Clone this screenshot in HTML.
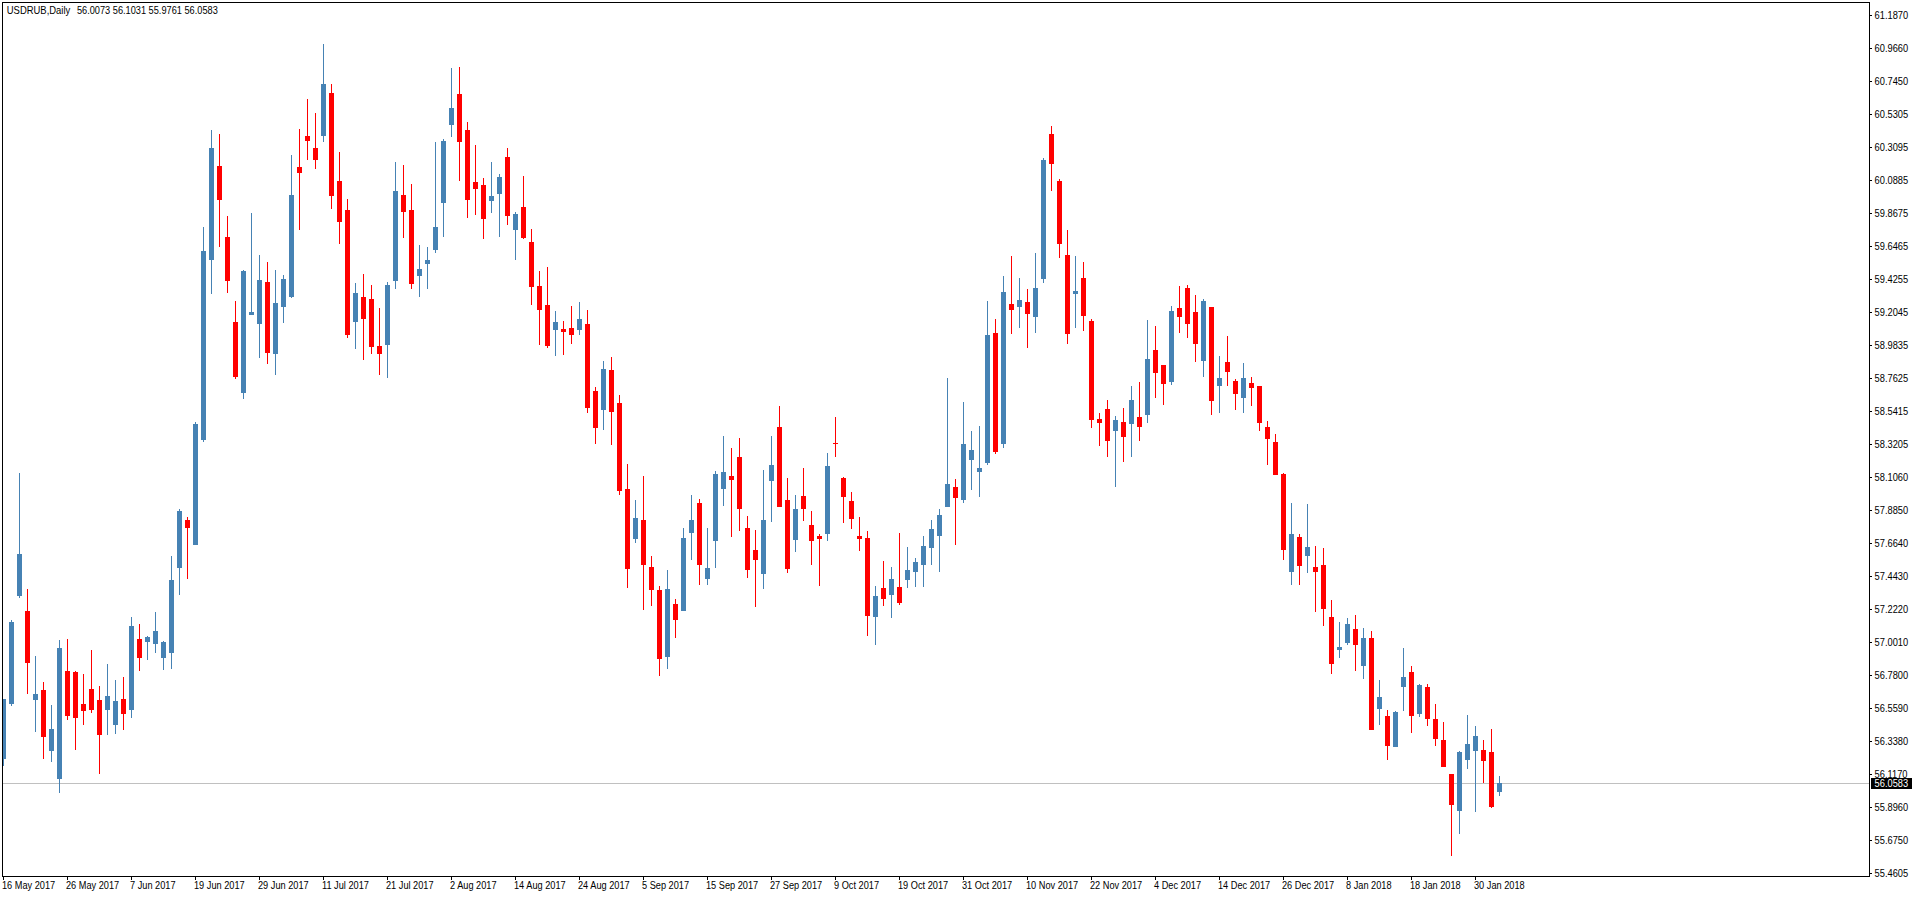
<!DOCTYPE html>
<html><head><meta charset="utf-8"><title>USDRUB,Daily</title>
<style>
html,body{margin:0;padding:0;background:#fff;width:1912px;height:897px;overflow:hidden}
svg{position:absolute;left:0;top:0;display:block}
text{font-family:"Liberation Sans",sans-serif;font-size:10px;fill:#000}
.w{fill:#fff}
</style></head><body>
<svg width="1912" height="897" viewBox="0 0 1912 897" shape-rendering="crispEdges">
<rect x="0" y="0" width="1912" height="897" fill="#fff"/>
<defs><clipPath id="area"><rect x="3" y="3" width="1866" height="873"/></clipPath></defs>
<g clip-path="url(#area)">
<rect x="3" y="783" width="1866" height="1" fill="#C0C0C0"/>
<rect x="3" y="699" width="1" height="67" fill="#4682B4"/>
<rect x="1" y="699" width="5" height="60" fill="#4682B4"/>
<rect x="11" y="620" width="1" height="86" fill="#4682B4"/>
<rect x="9" y="622" width="5" height="82" fill="#4682B4"/>
<rect x="19" y="473" width="1" height="125" fill="#4682B4"/>
<rect x="17" y="554" width="5" height="42" fill="#4682B4"/>
<rect x="27" y="589" width="1" height="105" fill="#FF0000"/>
<rect x="25" y="611" width="5" height="52" fill="#FF0000"/>
<rect x="35" y="656" width="1" height="76" fill="#4682B4"/>
<rect x="33" y="694" width="5" height="6" fill="#4682B4"/>
<rect x="43" y="682" width="1" height="77" fill="#FF0000"/>
<rect x="41" y="690" width="5" height="47" fill="#FF0000"/>
<rect x="51" y="705" width="1" height="57" fill="#4682B4"/>
<rect x="49" y="729" width="5" height="22" fill="#4682B4"/>
<rect x="59" y="640" width="1" height="153" fill="#4682B4"/>
<rect x="57" y="648" width="5" height="131" fill="#4682B4"/>
<rect x="67" y="639" width="1" height="81" fill="#FF0000"/>
<rect x="65" y="671" width="5" height="45" fill="#FF0000"/>
<rect x="75" y="671" width="1" height="79" fill="#FF0000"/>
<rect x="73" y="672" width="5" height="46" fill="#FF0000"/>
<rect x="83" y="674" width="1" height="51" fill="#FF0000"/>
<rect x="81" y="704" width="5" height="7" fill="#FF0000"/>
<rect x="91" y="650" width="1" height="63" fill="#FF0000"/>
<rect x="89" y="689" width="5" height="21" fill="#FF0000"/>
<rect x="99" y="686" width="1" height="88" fill="#FF0000"/>
<rect x="97" y="700" width="5" height="35" fill="#FF0000"/>
<rect x="107" y="664" width="1" height="71" fill="#4682B4"/>
<rect x="105" y="696" width="5" height="14" fill="#4682B4"/>
<rect x="115" y="680" width="1" height="54" fill="#4682B4"/>
<rect x="113" y="701" width="5" height="24" fill="#4682B4"/>
<rect x="123" y="677" width="1" height="53" fill="#FF0000"/>
<rect x="121" y="699" width="5" height="15" fill="#FF0000"/>
<rect x="131" y="617" width="1" height="101" fill="#4682B4"/>
<rect x="129" y="626" width="5" height="84" fill="#4682B4"/>
<rect x="139" y="624" width="1" height="47" fill="#FF0000"/>
<rect x="137" y="639" width="5" height="19" fill="#FF0000"/>
<rect x="147" y="636" width="1" height="24" fill="#4682B4"/>
<rect x="145" y="637" width="5" height="5" fill="#4682B4"/>
<rect x="155" y="612" width="1" height="41" fill="#4682B4"/>
<rect x="153" y="631" width="5" height="13" fill="#4682B4"/>
<rect x="163" y="641" width="1" height="29" fill="#4682B4"/>
<rect x="161" y="642" width="5" height="16" fill="#4682B4"/>
<rect x="171" y="556" width="1" height="113" fill="#4682B4"/>
<rect x="169" y="580" width="5" height="73" fill="#4682B4"/>
<rect x="179" y="509" width="1" height="86" fill="#4682B4"/>
<rect x="177" y="511" width="5" height="57" fill="#4682B4"/>
<rect x="187" y="517" width="1" height="62" fill="#FF0000"/>
<rect x="185" y="520" width="5" height="8" fill="#FF0000"/>
<rect x="195" y="422" width="1" height="123" fill="#4682B4"/>
<rect x="193" y="424" width="5" height="121" fill="#4682B4"/>
<rect x="203" y="227" width="1" height="215" fill="#4682B4"/>
<rect x="201" y="251" width="5" height="189" fill="#4682B4"/>
<rect x="211" y="130" width="1" height="164" fill="#4682B4"/>
<rect x="209" y="148" width="5" height="112" fill="#4682B4"/>
<rect x="219" y="134" width="1" height="113" fill="#FF0000"/>
<rect x="217" y="166" width="5" height="34" fill="#FF0000"/>
<rect x="227" y="216" width="1" height="77" fill="#FF0000"/>
<rect x="225" y="237" width="5" height="44" fill="#FF0000"/>
<rect x="235" y="301" width="1" height="78" fill="#FF0000"/>
<rect x="233" y="322" width="5" height="55" fill="#FF0000"/>
<rect x="243" y="270" width="1" height="129" fill="#4682B4"/>
<rect x="241" y="271" width="5" height="122" fill="#4682B4"/>
<rect x="251" y="213" width="1" height="102" fill="#4682B4"/>
<rect x="249" y="312" width="5" height="3" fill="#4682B4"/>
<rect x="259" y="255" width="1" height="103" fill="#4682B4"/>
<rect x="257" y="280" width="5" height="44" fill="#4682B4"/>
<rect x="267" y="262" width="1" height="102" fill="#FF0000"/>
<rect x="265" y="282" width="5" height="71" fill="#FF0000"/>
<rect x="275" y="270" width="1" height="105" fill="#4682B4"/>
<rect x="273" y="303" width="5" height="51" fill="#4682B4"/>
<rect x="283" y="275" width="1" height="48" fill="#4682B4"/>
<rect x="281" y="279" width="5" height="28" fill="#4682B4"/>
<rect x="291" y="155" width="1" height="143" fill="#4682B4"/>
<rect x="289" y="195" width="5" height="102" fill="#4682B4"/>
<rect x="299" y="129" width="1" height="101" fill="#FF0000"/>
<rect x="297" y="167" width="5" height="6" fill="#FF0000"/>
<rect x="307" y="99" width="1" height="61" fill="#FF0000"/>
<rect x="305" y="136" width="5" height="5" fill="#FF0000"/>
<rect x="315" y="113" width="1" height="56" fill="#FF0000"/>
<rect x="313" y="148" width="5" height="12" fill="#FF0000"/>
<rect x="323" y="44" width="1" height="98" fill="#4682B4"/>
<rect x="321" y="84" width="5" height="52" fill="#4682B4"/>
<rect x="331" y="84" width="1" height="125" fill="#FF0000"/>
<rect x="329" y="93" width="5" height="103" fill="#FF0000"/>
<rect x="339" y="152" width="1" height="92" fill="#FF0000"/>
<rect x="337" y="181" width="5" height="41" fill="#FF0000"/>
<rect x="347" y="199" width="1" height="139" fill="#FF0000"/>
<rect x="345" y="210" width="5" height="125" fill="#FF0000"/>
<rect x="355" y="283" width="1" height="66" fill="#4682B4"/>
<rect x="353" y="293" width="5" height="29" fill="#4682B4"/>
<rect x="363" y="274" width="1" height="86" fill="#FF0000"/>
<rect x="361" y="297" width="5" height="22" fill="#FF0000"/>
<rect x="371" y="285" width="1" height="69" fill="#FF0000"/>
<rect x="369" y="299" width="5" height="48" fill="#FF0000"/>
<rect x="379" y="308" width="1" height="67" fill="#FF0000"/>
<rect x="377" y="346" width="5" height="8" fill="#FF0000"/>
<rect x="387" y="282" width="1" height="96" fill="#4682B4"/>
<rect x="385" y="285" width="5" height="60" fill="#4682B4"/>
<rect x="395" y="162" width="1" height="127" fill="#4682B4"/>
<rect x="393" y="191" width="5" height="90" fill="#4682B4"/>
<rect x="403" y="165" width="1" height="73" fill="#FF0000"/>
<rect x="401" y="195" width="5" height="17" fill="#FF0000"/>
<rect x="411" y="184" width="1" height="105" fill="#FF0000"/>
<rect x="409" y="210" width="5" height="74" fill="#FF0000"/>
<rect x="419" y="245" width="1" height="52" fill="#4682B4"/>
<rect x="417" y="269" width="5" height="7" fill="#4682B4"/>
<rect x="427" y="247" width="1" height="42" fill="#4682B4"/>
<rect x="425" y="260" width="5" height="4" fill="#4682B4"/>
<rect x="435" y="142" width="1" height="111" fill="#4682B4"/>
<rect x="433" y="227" width="5" height="23" fill="#4682B4"/>
<rect x="443" y="139" width="1" height="98" fill="#4682B4"/>
<rect x="441" y="141" width="5" height="62" fill="#4682B4"/>
<rect x="451" y="68" width="1" height="69" fill="#4682B4"/>
<rect x="449" y="108" width="5" height="17" fill="#4682B4"/>
<rect x="459" y="67" width="1" height="114" fill="#FF0000"/>
<rect x="457" y="94" width="5" height="48" fill="#FF0000"/>
<rect x="467" y="122" width="1" height="96" fill="#FF0000"/>
<rect x="465" y="130" width="5" height="70" fill="#FF0000"/>
<rect x="475" y="145" width="1" height="70" fill="#FF0000"/>
<rect x="473" y="182" width="5" height="7" fill="#FF0000"/>
<rect x="483" y="178" width="1" height="61" fill="#FF0000"/>
<rect x="481" y="185" width="5" height="34" fill="#FF0000"/>
<rect x="491" y="162" width="1" height="51" fill="#4682B4"/>
<rect x="489" y="196" width="5" height="5" fill="#4682B4"/>
<rect x="499" y="174" width="1" height="63" fill="#4682B4"/>
<rect x="497" y="177" width="5" height="17" fill="#4682B4"/>
<rect x="507" y="148" width="1" height="77" fill="#FF0000"/>
<rect x="505" y="157" width="5" height="59" fill="#FF0000"/>
<rect x="515" y="212" width="1" height="48" fill="#4682B4"/>
<rect x="513" y="214" width="5" height="16" fill="#4682B4"/>
<rect x="523" y="176" width="1" height="63" fill="#FF0000"/>
<rect x="521" y="207" width="5" height="31" fill="#FF0000"/>
<rect x="531" y="229" width="1" height="76" fill="#FF0000"/>
<rect x="529" y="242" width="5" height="45" fill="#FF0000"/>
<rect x="539" y="271" width="1" height="74" fill="#FF0000"/>
<rect x="537" y="286" width="5" height="24" fill="#FF0000"/>
<rect x="547" y="267" width="1" height="81" fill="#FF0000"/>
<rect x="545" y="305" width="5" height="41" fill="#FF0000"/>
<rect x="555" y="311" width="1" height="45" fill="#4682B4"/>
<rect x="553" y="322" width="5" height="8" fill="#4682B4"/>
<rect x="563" y="321" width="1" height="34" fill="#FF0000"/>
<rect x="561" y="329" width="5" height="3" fill="#FF0000"/>
<rect x="571" y="306" width="1" height="38" fill="#FF0000"/>
<rect x="569" y="328" width="5" height="7" fill="#FF0000"/>
<rect x="579" y="302" width="1" height="33" fill="#4682B4"/>
<rect x="577" y="319" width="5" height="11" fill="#4682B4"/>
<rect x="587" y="310" width="1" height="103" fill="#FF0000"/>
<rect x="585" y="324" width="5" height="84" fill="#FF0000"/>
<rect x="595" y="387" width="1" height="57" fill="#FF0000"/>
<rect x="593" y="391" width="5" height="37" fill="#FF0000"/>
<rect x="603" y="361" width="1" height="69" fill="#4682B4"/>
<rect x="601" y="369" width="5" height="41" fill="#4682B4"/>
<rect x="611" y="357" width="1" height="88" fill="#FF0000"/>
<rect x="609" y="370" width="5" height="42" fill="#FF0000"/>
<rect x="619" y="395" width="1" height="100" fill="#FF0000"/>
<rect x="617" y="403" width="5" height="88" fill="#FF0000"/>
<rect x="627" y="464" width="1" height="124" fill="#FF0000"/>
<rect x="625" y="489" width="5" height="80" fill="#FF0000"/>
<rect x="635" y="500" width="1" height="43" fill="#4682B4"/>
<rect x="633" y="518" width="5" height="21" fill="#4682B4"/>
<rect x="643" y="476" width="1" height="134" fill="#FF0000"/>
<rect x="641" y="520" width="5" height="45" fill="#FF0000"/>
<rect x="651" y="556" width="1" height="50" fill="#FF0000"/>
<rect x="649" y="567" width="5" height="23" fill="#FF0000"/>
<rect x="659" y="586" width="1" height="90" fill="#FF0000"/>
<rect x="657" y="590" width="5" height="69" fill="#FF0000"/>
<rect x="667" y="570" width="1" height="99" fill="#4682B4"/>
<rect x="665" y="589" width="5" height="68" fill="#4682B4"/>
<rect x="675" y="599" width="1" height="39" fill="#FF0000"/>
<rect x="673" y="604" width="5" height="16" fill="#FF0000"/>
<rect x="683" y="528" width="1" height="83" fill="#4682B4"/>
<rect x="681" y="538" width="5" height="73" fill="#4682B4"/>
<rect x="691" y="495" width="1" height="65" fill="#4682B4"/>
<rect x="689" y="520" width="5" height="13" fill="#4682B4"/>
<rect x="699" y="499" width="1" height="86" fill="#FF0000"/>
<rect x="697" y="503" width="5" height="62" fill="#FF0000"/>
<rect x="707" y="528" width="1" height="57" fill="#4682B4"/>
<rect x="705" y="568" width="5" height="11" fill="#4682B4"/>
<rect x="715" y="471" width="1" height="97" fill="#4682B4"/>
<rect x="713" y="474" width="5" height="67" fill="#4682B4"/>
<rect x="723" y="436" width="1" height="70" fill="#4682B4"/>
<rect x="721" y="472" width="5" height="17" fill="#4682B4"/>
<rect x="731" y="448" width="1" height="89" fill="#FF0000"/>
<rect x="729" y="476" width="5" height="4" fill="#FF0000"/>
<rect x="739" y="438" width="1" height="93" fill="#FF0000"/>
<rect x="737" y="457" width="5" height="52" fill="#FF0000"/>
<rect x="747" y="516" width="1" height="62" fill="#FF0000"/>
<rect x="745" y="528" width="5" height="42" fill="#FF0000"/>
<rect x="755" y="530" width="1" height="77" fill="#FF0000"/>
<rect x="753" y="550" width="5" height="10" fill="#FF0000"/>
<rect x="763" y="470" width="1" height="119" fill="#4682B4"/>
<rect x="761" y="520" width="5" height="54" fill="#4682B4"/>
<rect x="771" y="436" width="1" height="86" fill="#4682B4"/>
<rect x="769" y="465" width="5" height="16" fill="#4682B4"/>
<rect x="779" y="406" width="1" height="101" fill="#FF0000"/>
<rect x="777" y="427" width="5" height="80" fill="#FF0000"/>
<rect x="787" y="478" width="1" height="95" fill="#FF0000"/>
<rect x="785" y="500" width="5" height="69" fill="#FF0000"/>
<rect x="795" y="495" width="1" height="57" fill="#4682B4"/>
<rect x="793" y="509" width="5" height="31" fill="#4682B4"/>
<rect x="803" y="468" width="1" height="53" fill="#FF0000"/>
<rect x="801" y="496" width="5" height="13" fill="#FF0000"/>
<rect x="811" y="511" width="1" height="54" fill="#FF0000"/>
<rect x="809" y="525" width="5" height="16" fill="#FF0000"/>
<rect x="819" y="534" width="1" height="52" fill="#FF0000"/>
<rect x="817" y="536" width="5" height="3" fill="#FF0000"/>
<rect x="827" y="453" width="1" height="88" fill="#4682B4"/>
<rect x="825" y="466" width="5" height="68" fill="#4682B4"/>
<rect x="835" y="417" width="1" height="40" fill="#FF0000"/>
<rect x="833" y="443" width="5" height="1" fill="#FF0000"/>
<rect x="843" y="477" width="1" height="46" fill="#FF0000"/>
<rect x="841" y="478" width="5" height="19" fill="#FF0000"/>
<rect x="851" y="492" width="1" height="37" fill="#FF0000"/>
<rect x="849" y="501" width="5" height="18" fill="#FF0000"/>
<rect x="859" y="517" width="1" height="34" fill="#FF0000"/>
<rect x="857" y="536" width="5" height="3" fill="#FF0000"/>
<rect x="867" y="531" width="1" height="105" fill="#FF0000"/>
<rect x="865" y="538" width="5" height="78" fill="#FF0000"/>
<rect x="875" y="586" width="1" height="59" fill="#4682B4"/>
<rect x="873" y="596" width="5" height="21" fill="#4682B4"/>
<rect x="883" y="561" width="1" height="45" fill="#FF0000"/>
<rect x="881" y="588" width="5" height="11" fill="#FF0000"/>
<rect x="891" y="567" width="1" height="51" fill="#4682B4"/>
<rect x="889" y="579" width="5" height="16" fill="#4682B4"/>
<rect x="899" y="533" width="1" height="72" fill="#FF0000"/>
<rect x="897" y="587" width="5" height="16" fill="#FF0000"/>
<rect x="907" y="547" width="1" height="41" fill="#4682B4"/>
<rect x="905" y="570" width="5" height="10" fill="#4682B4"/>
<rect x="915" y="558" width="1" height="29" fill="#4682B4"/>
<rect x="913" y="562" width="5" height="10" fill="#4682B4"/>
<rect x="923" y="536" width="1" height="51" fill="#4682B4"/>
<rect x="921" y="546" width="5" height="19" fill="#4682B4"/>
<rect x="931" y="520" width="1" height="45" fill="#4682B4"/>
<rect x="929" y="529" width="5" height="19" fill="#4682B4"/>
<rect x="939" y="509" width="1" height="63" fill="#4682B4"/>
<rect x="937" y="515" width="5" height="21" fill="#4682B4"/>
<rect x="947" y="378" width="1" height="129" fill="#4682B4"/>
<rect x="945" y="484" width="5" height="23" fill="#4682B4"/>
<rect x="955" y="479" width="1" height="66" fill="#FF0000"/>
<rect x="953" y="487" width="5" height="11" fill="#FF0000"/>
<rect x="963" y="402" width="1" height="101" fill="#4682B4"/>
<rect x="961" y="444" width="5" height="56" fill="#4682B4"/>
<rect x="971" y="431" width="1" height="59" fill="#4682B4"/>
<rect x="969" y="450" width="5" height="10" fill="#4682B4"/>
<rect x="979" y="426" width="1" height="71" fill="#4682B4"/>
<rect x="977" y="468" width="5" height="4" fill="#4682B4"/>
<rect x="987" y="301" width="1" height="164" fill="#4682B4"/>
<rect x="985" y="335" width="5" height="128" fill="#4682B4"/>
<rect x="995" y="319" width="1" height="135" fill="#FF0000"/>
<rect x="993" y="333" width="5" height="119" fill="#FF0000"/>
<rect x="1003" y="276" width="1" height="172" fill="#4682B4"/>
<rect x="1001" y="292" width="5" height="152" fill="#4682B4"/>
<rect x="1011" y="256" width="1" height="78" fill="#FF0000"/>
<rect x="1009" y="304" width="5" height="6" fill="#FF0000"/>
<rect x="1019" y="278" width="1" height="50" fill="#4682B4"/>
<rect x="1017" y="300" width="5" height="7" fill="#4682B4"/>
<rect x="1027" y="289" width="1" height="59" fill="#FF0000"/>
<rect x="1025" y="302" width="5" height="12" fill="#FF0000"/>
<rect x="1035" y="253" width="1" height="80" fill="#4682B4"/>
<rect x="1033" y="288" width="5" height="29" fill="#4682B4"/>
<rect x="1043" y="158" width="1" height="125" fill="#4682B4"/>
<rect x="1041" y="160" width="5" height="119" fill="#4682B4"/>
<rect x="1051" y="126" width="1" height="65" fill="#FF0000"/>
<rect x="1049" y="134" width="5" height="30" fill="#FF0000"/>
<rect x="1059" y="179" width="1" height="79" fill="#FF0000"/>
<rect x="1057" y="181" width="5" height="63" fill="#FF0000"/>
<rect x="1067" y="230" width="1" height="114" fill="#FF0000"/>
<rect x="1065" y="255" width="5" height="79" fill="#FF0000"/>
<rect x="1075" y="256" width="1" height="72" fill="#4682B4"/>
<rect x="1073" y="291" width="5" height="3" fill="#4682B4"/>
<rect x="1083" y="262" width="1" height="69" fill="#FF0000"/>
<rect x="1081" y="278" width="5" height="38" fill="#FF0000"/>
<rect x="1091" y="319" width="1" height="109" fill="#FF0000"/>
<rect x="1089" y="321" width="5" height="99" fill="#FF0000"/>
<rect x="1099" y="413" width="1" height="33" fill="#FF0000"/>
<rect x="1097" y="419" width="5" height="4" fill="#FF0000"/>
<rect x="1107" y="400" width="1" height="57" fill="#FF0000"/>
<rect x="1105" y="409" width="5" height="32" fill="#FF0000"/>
<rect x="1115" y="416" width="1" height="71" fill="#4682B4"/>
<rect x="1113" y="420" width="5" height="11" fill="#4682B4"/>
<rect x="1123" y="408" width="1" height="54" fill="#FF0000"/>
<rect x="1121" y="422" width="5" height="15" fill="#FF0000"/>
<rect x="1131" y="386" width="1" height="71" fill="#4682B4"/>
<rect x="1129" y="400" width="5" height="24" fill="#4682B4"/>
<rect x="1139" y="382" width="1" height="59" fill="#FF0000"/>
<rect x="1137" y="417" width="5" height="10" fill="#FF0000"/>
<rect x="1147" y="320" width="1" height="103" fill="#4682B4"/>
<rect x="1145" y="359" width="5" height="56" fill="#4682B4"/>
<rect x="1155" y="326" width="1" height="72" fill="#FF0000"/>
<rect x="1153" y="350" width="5" height="23" fill="#FF0000"/>
<rect x="1163" y="365" width="1" height="40" fill="#FF0000"/>
<rect x="1161" y="365" width="5" height="19" fill="#FF0000"/>
<rect x="1171" y="306" width="1" height="79" fill="#4682B4"/>
<rect x="1169" y="311" width="5" height="71" fill="#4682B4"/>
<rect x="1179" y="286" width="1" height="47" fill="#FF0000"/>
<rect x="1177" y="308" width="5" height="9" fill="#FF0000"/>
<rect x="1187" y="285" width="1" height="53" fill="#FF0000"/>
<rect x="1185" y="288" width="5" height="36" fill="#FF0000"/>
<rect x="1195" y="295" width="1" height="67" fill="#FF0000"/>
<rect x="1193" y="312" width="5" height="32" fill="#FF0000"/>
<rect x="1203" y="299" width="1" height="78" fill="#4682B4"/>
<rect x="1201" y="301" width="5" height="60" fill="#4682B4"/>
<rect x="1211" y="307" width="1" height="108" fill="#FF0000"/>
<rect x="1209" y="307" width="5" height="94" fill="#FF0000"/>
<rect x="1219" y="356" width="1" height="57" fill="#4682B4"/>
<rect x="1217" y="378" width="5" height="8" fill="#4682B4"/>
<rect x="1227" y="336" width="1" height="50" fill="#FF0000"/>
<rect x="1225" y="362" width="5" height="10" fill="#FF0000"/>
<rect x="1235" y="379" width="1" height="31" fill="#FF0000"/>
<rect x="1233" y="381" width="5" height="13" fill="#FF0000"/>
<rect x="1243" y="363" width="1" height="50" fill="#4682B4"/>
<rect x="1241" y="378" width="5" height="20" fill="#4682B4"/>
<rect x="1251" y="377" width="1" height="29" fill="#FF0000"/>
<rect x="1249" y="383" width="5" height="5" fill="#FF0000"/>
<rect x="1259" y="386" width="1" height="45" fill="#FF0000"/>
<rect x="1257" y="386" width="5" height="37" fill="#FF0000"/>
<rect x="1267" y="421" width="1" height="44" fill="#FF0000"/>
<rect x="1265" y="427" width="5" height="12" fill="#FF0000"/>
<rect x="1275" y="434" width="1" height="41" fill="#FF0000"/>
<rect x="1273" y="442" width="5" height="33" fill="#FF0000"/>
<rect x="1283" y="473" width="1" height="87" fill="#FF0000"/>
<rect x="1281" y="474" width="5" height="76" fill="#FF0000"/>
<rect x="1291" y="503" width="1" height="82" fill="#4682B4"/>
<rect x="1289" y="534" width="5" height="38" fill="#4682B4"/>
<rect x="1299" y="534" width="1" height="51" fill="#FF0000"/>
<rect x="1297" y="537" width="5" height="29" fill="#FF0000"/>
<rect x="1307" y="504" width="1" height="69" fill="#4682B4"/>
<rect x="1305" y="547" width="5" height="9" fill="#4682B4"/>
<rect x="1315" y="546" width="1" height="66" fill="#FF0000"/>
<rect x="1313" y="567" width="5" height="5" fill="#FF0000"/>
<rect x="1323" y="548" width="1" height="78" fill="#FF0000"/>
<rect x="1321" y="565" width="5" height="44" fill="#FF0000"/>
<rect x="1331" y="600" width="1" height="74" fill="#FF0000"/>
<rect x="1329" y="617" width="5" height="47" fill="#FF0000"/>
<rect x="1339" y="622" width="1" height="36" fill="#4682B4"/>
<rect x="1337" y="647" width="5" height="3" fill="#4682B4"/>
<rect x="1347" y="618" width="1" height="27" fill="#4682B4"/>
<rect x="1345" y="624" width="5" height="19" fill="#4682B4"/>
<rect x="1355" y="615" width="1" height="56" fill="#FF0000"/>
<rect x="1353" y="629" width="5" height="16" fill="#FF0000"/>
<rect x="1363" y="628" width="1" height="51" fill="#4682B4"/>
<rect x="1361" y="638" width="5" height="28" fill="#4682B4"/>
<rect x="1371" y="631" width="1" height="99" fill="#FF0000"/>
<rect x="1369" y="638" width="5" height="92" fill="#FF0000"/>
<rect x="1379" y="680" width="1" height="45" fill="#4682B4"/>
<rect x="1377" y="697" width="5" height="12" fill="#4682B4"/>
<rect x="1387" y="710" width="1" height="50" fill="#FF0000"/>
<rect x="1385" y="716" width="5" height="30" fill="#FF0000"/>
<rect x="1395" y="711" width="1" height="36" fill="#4682B4"/>
<rect x="1393" y="712" width="5" height="35" fill="#4682B4"/>
<rect x="1403" y="648" width="1" height="63" fill="#4682B4"/>
<rect x="1401" y="677" width="5" height="10" fill="#4682B4"/>
<rect x="1411" y="666" width="1" height="67" fill="#FF0000"/>
<rect x="1409" y="672" width="5" height="44" fill="#FF0000"/>
<rect x="1419" y="684" width="1" height="33" fill="#4682B4"/>
<rect x="1417" y="685" width="5" height="29" fill="#4682B4"/>
<rect x="1427" y="684" width="1" height="42" fill="#FF0000"/>
<rect x="1425" y="687" width="5" height="32" fill="#FF0000"/>
<rect x="1435" y="704" width="1" height="42" fill="#FF0000"/>
<rect x="1433" y="719" width="5" height="20" fill="#FF0000"/>
<rect x="1443" y="722" width="1" height="45" fill="#FF0000"/>
<rect x="1441" y="740" width="5" height="27" fill="#FF0000"/>
<rect x="1451" y="774" width="1" height="82" fill="#FF0000"/>
<rect x="1449" y="774" width="5" height="31" fill="#FF0000"/>
<rect x="1459" y="751" width="1" height="83" fill="#4682B4"/>
<rect x="1457" y="752" width="5" height="59" fill="#4682B4"/>
<rect x="1467" y="715" width="1" height="54" fill="#4682B4"/>
<rect x="1465" y="744" width="5" height="16" fill="#4682B4"/>
<rect x="1475" y="726" width="1" height="86" fill="#4682B4"/>
<rect x="1473" y="736" width="5" height="15" fill="#4682B4"/>
<rect x="1483" y="740" width="1" height="43" fill="#FF0000"/>
<rect x="1481" y="750" width="5" height="11" fill="#FF0000"/>
<rect x="1491" y="729" width="1" height="79" fill="#FF0000"/>
<rect x="1489" y="752" width="5" height="55" fill="#FF0000"/>
<rect x="1499" y="776" width="1" height="20" fill="#4682B4"/>
<rect x="1497" y="783" width="5" height="9" fill="#4682B4"/>
</g>
<rect x="2" y="2" width="1868" height="1" fill="#000"/>
<rect x="2" y="2" width="1" height="875" fill="#000"/>
<rect x="2" y="876" width="1868" height="1" fill="#000"/>
<rect x="1869" y="2" width="1" height="875" fill="#000"/>
<text transform="translate(6.8,14) scale(0.945,1)">USDRUB,Daily</text>
<text transform="translate(76.9,14) scale(0.922,1)">56.0073 56.1031 55.9761 56.0583</text>
<rect x="1870" y="15" width="2" height="1" fill="#000"/><text transform="translate(1874.6,19) scale(0.93,1)">61.1870</text><rect x="1870" y="48" width="2" height="1" fill="#000"/><text transform="translate(1874.6,52) scale(0.93,1)">60.9660</text><rect x="1870" y="81" width="2" height="1" fill="#000"/><text transform="translate(1874.6,85) scale(0.93,1)">60.7450</text><rect x="1870" y="114" width="2" height="1" fill="#000"/><text transform="translate(1874.6,118) scale(0.93,1)">60.5305</text><rect x="1870" y="147" width="2" height="1" fill="#000"/><text transform="translate(1874.6,151) scale(0.93,1)">60.3095</text><rect x="1870" y="180" width="2" height="1" fill="#000"/><text transform="translate(1874.6,184) scale(0.93,1)">60.0885</text><rect x="1870" y="213" width="2" height="1" fill="#000"/><text transform="translate(1874.6,217) scale(0.93,1)">59.8675</text><rect x="1870" y="246" width="2" height="1" fill="#000"/><text transform="translate(1874.6,250) scale(0.93,1)">59.6465</text><rect x="1870" y="279" width="2" height="1" fill="#000"/><text transform="translate(1874.6,283) scale(0.93,1)">59.4255</text><rect x="1870" y="312" width="2" height="1" fill="#000"/><text transform="translate(1874.6,316) scale(0.93,1)">59.2045</text><rect x="1870" y="345" width="2" height="1" fill="#000"/><text transform="translate(1874.6,349) scale(0.93,1)">58.9835</text><rect x="1870" y="378" width="2" height="1" fill="#000"/><text transform="translate(1874.6,382) scale(0.93,1)">58.7625</text><rect x="1870" y="411" width="2" height="1" fill="#000"/><text transform="translate(1874.6,415) scale(0.93,1)">58.5415</text><rect x="1870" y="444" width="2" height="1" fill="#000"/><text transform="translate(1874.6,448) scale(0.93,1)">58.3205</text><rect x="1870" y="477" width="2" height="1" fill="#000"/><text transform="translate(1874.6,481) scale(0.93,1)">58.1060</text><rect x="1870" y="510" width="2" height="1" fill="#000"/><text transform="translate(1874.6,514) scale(0.93,1)">57.8850</text><rect x="1870" y="543" width="2" height="1" fill="#000"/><text transform="translate(1874.6,547) scale(0.93,1)">57.6640</text><rect x="1870" y="576" width="2" height="1" fill="#000"/><text transform="translate(1874.6,580) scale(0.93,1)">57.4430</text><rect x="1870" y="609" width="2" height="1" fill="#000"/><text transform="translate(1874.6,613) scale(0.93,1)">57.2220</text><rect x="1870" y="642" width="2" height="1" fill="#000"/><text transform="translate(1874.6,646) scale(0.93,1)">57.0010</text><rect x="1870" y="675" width="2" height="1" fill="#000"/><text transform="translate(1874.6,679) scale(0.93,1)">56.7800</text><rect x="1870" y="708" width="2" height="1" fill="#000"/><text transform="translate(1874.6,712) scale(0.93,1)">56.5590</text><rect x="1870" y="741" width="2" height="1" fill="#000"/><text transform="translate(1874.6,745) scale(0.93,1)">56.3380</text><rect x="1870" y="774" width="2" height="1" fill="#000"/><text transform="translate(1874.6,778) scale(0.93,1)">56.1170</text><rect x="1870" y="807" width="2" height="1" fill="#000"/><text transform="translate(1874.6,811) scale(0.93,1)">55.8960</text><rect x="1870" y="840" width="2" height="1" fill="#000"/><text transform="translate(1874.6,844) scale(0.93,1)">55.6750</text><rect x="1870" y="873" width="2" height="1" fill="#000"/><text transform="translate(1874.6,877) scale(0.93,1)">55.4605</text>
<rect x="3" y="877" width="1" height="3" fill="#000"/><text transform="translate(2.0,889) scale(0.92,1)">16 May 2017</text><rect x="67" y="877" width="1" height="3" fill="#000"/><text transform="translate(66.0,889) scale(0.92,1)">26 May 2017</text><rect x="131" y="877" width="1" height="3" fill="#000"/><text transform="translate(130.0,889) scale(0.92,1)">7 Jun 2017</text><rect x="195" y="877" width="1" height="3" fill="#000"/><text transform="translate(194.0,889) scale(0.92,1)">19 Jun 2017</text><rect x="259" y="877" width="1" height="3" fill="#000"/><text transform="translate(258.0,889) scale(0.92,1)">29 Jun 2017</text><rect x="323" y="877" width="1" height="3" fill="#000"/><text transform="translate(322.0,889) scale(0.92,1)">11 Jul 2017</text><rect x="387" y="877" width="1" height="3" fill="#000"/><text transform="translate(386.0,889) scale(0.92,1)">21 Jul 2017</text><rect x="451" y="877" width="1" height="3" fill="#000"/><text transform="translate(450.0,889) scale(0.92,1)">2 Aug 2017</text><rect x="515" y="877" width="1" height="3" fill="#000"/><text transform="translate(514.0,889) scale(0.92,1)">14 Aug 2017</text><rect x="579" y="877" width="1" height="3" fill="#000"/><text transform="translate(578.0,889) scale(0.92,1)">24 Aug 2017</text><rect x="643" y="877" width="1" height="3" fill="#000"/><text transform="translate(642.0,889) scale(0.92,1)">5 Sep 2017</text><rect x="707" y="877" width="1" height="3" fill="#000"/><text transform="translate(706.0,889) scale(0.92,1)">15 Sep 2017</text><rect x="771" y="877" width="1" height="3" fill="#000"/><text transform="translate(770.0,889) scale(0.92,1)">27 Sep 2017</text><rect x="835" y="877" width="1" height="3" fill="#000"/><text transform="translate(834.0,889) scale(0.92,1)">9 Oct 2017</text><rect x="899" y="877" width="1" height="3" fill="#000"/><text transform="translate(898.0,889) scale(0.92,1)">19 Oct 2017</text><rect x="963" y="877" width="1" height="3" fill="#000"/><text transform="translate(962.0,889) scale(0.92,1)">31 Oct 2017</text><rect x="1027" y="877" width="1" height="3" fill="#000"/><text transform="translate(1026.0,889) scale(0.92,1)">10 Nov 2017</text><rect x="1091" y="877" width="1" height="3" fill="#000"/><text transform="translate(1090.0,889) scale(0.92,1)">22 Nov 2017</text><rect x="1155" y="877" width="1" height="3" fill="#000"/><text transform="translate(1154.0,889) scale(0.92,1)">4 Dec 2017</text><rect x="1219" y="877" width="1" height="3" fill="#000"/><text transform="translate(1218.0,889) scale(0.92,1)">14 Dec 2017</text><rect x="1283" y="877" width="1" height="3" fill="#000"/><text transform="translate(1282.0,889) scale(0.92,1)">26 Dec 2017</text><rect x="1347" y="877" width="1" height="3" fill="#000"/><text transform="translate(1346.0,889) scale(0.92,1)">8 Jan 2018</text><rect x="1411" y="877" width="1" height="3" fill="#000"/><text transform="translate(1410.0,889) scale(0.92,1)">18 Jan 2018</text><rect x="1475" y="877" width="1" height="3" fill="#000"/><text transform="translate(1474.0,889) scale(0.92,1)">30 Jan 2018</text>
<rect x="1871" y="778" width="41" height="11" fill="#000"/>
<text class="w" transform="translate(1874.6,787) scale(0.93,1)">56.0583</text>
</svg>
</body></html>
